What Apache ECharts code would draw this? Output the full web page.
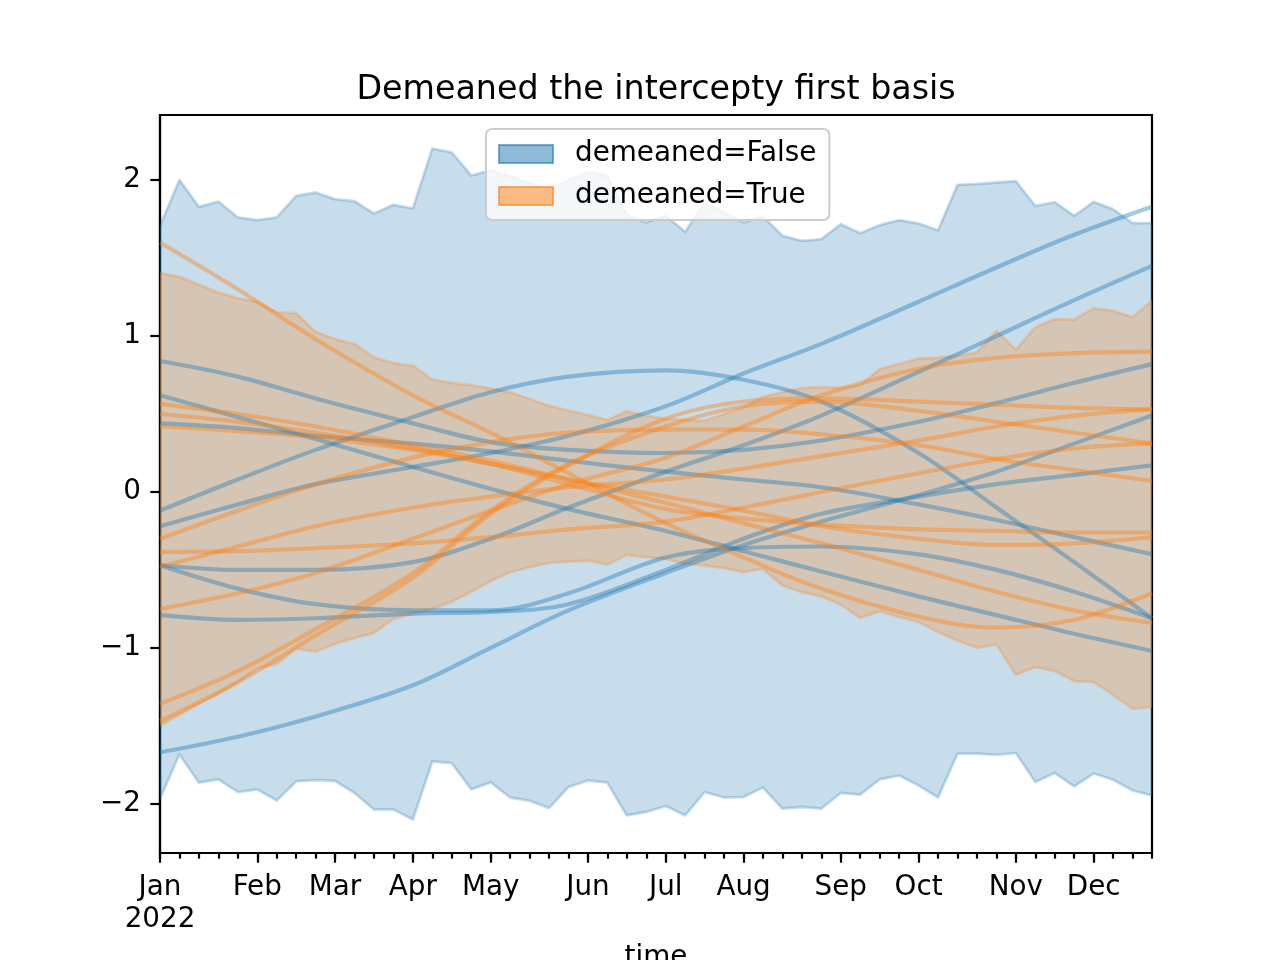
<!DOCTYPE html>
<html>
<head>
<meta charset="utf-8">
<script src="https://cdn.jsdelivr.net/npm/echarts@6/dist/echarts.min.js"></script>
<style>html,body{margin:0;padding:0;background:#fff;}#c{width:1280px;height:960px;}</style>
</head>
<body>
<div id="c"></div>
<script>
// weekly periods starting 2022-01-03 (52 weeks)
const weeks = Array.from({length: 52}, (_, i) => i);
const monthTickWeeks = [0, 5, 9, 13, 17, 22, 26, 30, 35, 39, 44, 48];
const monthTickLabels = ['Jan\n2022', 'Feb', 'Mar', 'Apr', 'May', 'Jun', 'Jul', 'Aug', 'Sep', 'Oct', 'Nov', 'Dec'];
const yTicks = [-2, -1, 0, 1, 2];

const blueUpper = [1.707,2.002,1.829,1.863,1.761,1.744,1.761,1.899,1.921,1.878,1.865,1.786,1.842,1.819,2.203,2.178,2.030,2.064,
  2.026,1.981,1.936,2.000,2.053,2.028,1.776,1.729,1.771,1.669,1.857,1.793,1.729,1.767,1.643,1.611,1.622,
  1.718,1.660,1.712,1.744,1.722,1.679,1.970,1.976,1.985,1.994,1.835,1.859,1.771,1.861,1.814,1.724,1.724];
const blueLower = [-1.968,-1.684,-1.865,-1.844,-1.925,-1.908,-1.979,-1.857,-1.848,-1.854,-1.931,-2.037,-2.037,-2.101,-1.729,-1.739,-1.908,-1.863,
  -1.960,-1.981,-2.028,-1.893,-1.851,-1.865,-2.075,-2.053,-2.015,-2.075,-1.925,-1.960,-1.957,-1.896,-2.032,-2.021,-2.032,
  -1.931,-1.942,-1.844,-1.819,-1.883,-1.960,-1.679,-1.679,-1.686,-1.675,-1.861,-1.803,-1.889,-1.806,-1.846,-1.915,-1.947];
const orangeUpper = [1.404,1.380,1.329,1.280,1.242,1.220,1.152,1.147,1.028,0.981,0.949,0.863,0.827,0.810,0.720,0.699,0.686,0.665,
  0.639,0.596,0.553,0.521,0.494,0.462,0.517,0.489,0.468,0.462,0.457,0.500,0.545,0.609,0.641,0.667,0.673,
  0.667,0.686,0.788,0.821,0.856,0.861,0.874,0.896,1.034,0.912,1.056,1.109,1.105,1.179,1.162,1.120,1.226];
const orangeLower = [-1.498,-1.429,-1.359,-1.295,-1.220,-1.130,-1.103,-1.006,-1.024,-0.974,-0.938,-0.904,-0.814,-0.782,-0.750,-0.705,-0.641,-0.571,
  -0.515,-0.483,-0.455,-0.447,-0.440,-0.466,-0.404,-0.419,-0.429,-0.462,-0.472,-0.489,-0.515,-0.494,-0.601,-0.643,-0.670,
  -0.724,-0.808,-0.765,-0.803,-0.835,-0.899,-0.953,-1.000,-0.979,-1.173,-1.124,-1.149,-1.213,-1.220,-1.301,-1.391,-1.380];

// curve values read at these weeks
const sampleWeeks = [0, 4, 8, 13, 17, 21, 26, 30, 34, 39, 43, 47, 51];
const blueLines = [
  [-0.12, 0.08, 0.27, 0.48, 0.64, 0.74, 0.78, 0.72, 0.58, 0.25, -0.10, -0.45, -0.81],
  [-0.22, -0.08, 0.05, 0.16, 0.25, 0.36, 0.55, 0.76, 0.95, 1.22, 1.44, 1.65, 1.83],
  [-0.47, -0.50, -0.50, -0.45, -0.30, -0.10, 0.13, 0.30, 0.49, 0.77, 1.00, 1.23, 1.45],
  [0.84, 0.74, 0.60, 0.44, 0.32, 0.27, 0.25, 0.27, 0.33, 0.45, 0.57, 0.70, 0.82],
  [0.44, 0.41, 0.36, 0.31, 0.26, 0.20, 0.13, 0.08, 0.03, -0.08, -0.18, -0.29, -0.40],
  [0.62, 0.48, 0.34, 0.16, 0.02, -0.11, -0.25, -0.38, -0.51, -0.67, -0.79, -0.91, -1.02],
  [-1.67, -1.57, -1.44, -1.24, -1.00, -0.76, -0.52, -0.34, -0.19, -0.02, 0.13, 0.31, 0.49],
  [-0.79, -0.82, -0.81, -0.78, -0.77, -0.72, -0.50, -0.30, -0.14, -0.03, 0.05, 0.11, 0.17],
  [-0.47, -0.62, -0.72, -0.76, -0.76, -0.65, -0.42, -0.36, -0.35, -0.40, -0.50, -0.64, -0.81]
];
const orangeLines = [
  [1.60, 1.30, 0.98, 0.62, 0.38, 0.12, -0.20, -0.42, -0.62, -0.80, -0.87, -0.82, -0.65],
  [0.565, 0.50, 0.42, 0.30, 0.20, 0.08, -0.07, -0.20, -0.33, -0.50, -0.64, -0.76, -0.84],
  [0.50, 0.45, 0.38, 0.28, 0.18, 0.08, -0.03, -0.12, -0.22, -0.30, -0.34, -0.33, -0.29],
  [0.42, 0.39, 0.35, 0.27, 0.18, 0.05, -0.11, -0.17, -0.21, -0.24, -0.25, -0.26, -0.26],
  [-0.30, -0.12, 0.05, 0.22, 0.32, 0.38, 0.40, 0.40, 0.37, 0.30, 0.21, 0.14, 0.07],
  [-0.385, -0.38, -0.36, -0.33, -0.29, -0.24, -0.19, -0.10, 0.00, 0.12, 0.21, 0.28, 0.31],
  [-0.48, -0.35, -0.22, -0.10, -0.03, 0.03, 0.08, 0.15, 0.23, 0.33, 0.42, 0.49, 0.53],
  [-0.75, -0.65, -0.52, -0.30, -0.12, 0.05, 0.22, 0.42, 0.62, 0.79, 0.86, 0.89, 0.90],
  [-1.36, -1.15, -0.88, -0.52, -0.12, 0.18, 0.42, 0.55, 0.58, 0.52, 0.45, 0.38, 0.31],
  [-1.47, -1.22, -0.92, -0.55, -0.14, 0.17, 0.47, 0.58, 0.60, 0.58, 0.56, 0.54, 0.53]
];

const BLUE = '31,119,180', ORANGE = '255,127,14';
const toPairs = (xs, ys) => xs.map((x, i) => [x, ys[i]]);
const fmtMinus = v => String(v).replace('-', '\u2212');

function bandSeries(name, upper, lower, rgb, z) {
  return {
    type: 'custom', name, z, silent: true, clip: true,
    itemStyle: { color: `rgba(${rgb},0.5)` },
    data: [0],
    renderItem: (params, api) => {
      const pts = [];
      for (let i = 0; i < weeks.length; i++) pts.push(api.coord([weeks[i], upper[i]]));
      for (let i = weeks.length - 1; i >= 0; i--) pts.push(api.coord([weeks[i], lower[i]]));
      return {
        type: 'polygon',
        shape: { points: pts },
        style: { fill: `rgba(${rgb},0.25)`, stroke: `rgba(${rgb},0.25)`, lineWidth: 2.8, lineJoin: 'round' }
      };
    }
  };
}

const series = [];
series.push(bandSeries('demeaned=False', blueUpper, blueLower, BLUE, 2));
series.push(bandSeries('demeaned=True', orangeUpper, orangeLower, ORANGE, 3));
blueLines.forEach((ys, k) => series.push({ type: 'line', name: 'bl' + k, data: toPairs(sampleWeeks, ys), smooth: 0.35,
  symbol: 'none', silent: true, lineStyle: { color: `rgba(${BLUE},0.4)`, width: 4.2 }, z: 4 }));
orangeLines.forEach((ys, k) => series.push({ type: 'line', name: 'ol' + k, data: toPairs(sampleWeeks, ys), smooth: 0.35,
  symbol: 'none', silent: true, lineStyle: { color: `rgba(${ORANGE},0.4)`, width: 4.2 }, z: 4 }));

const chart = echarts.init(document.getElementById('c'), null, { renderer: 'canvas' });
const FONT = 'DejaVu Sans';
chart.setOption({
  animation: false,
  backgroundColor: '#fff',
  title: { text: 'Demeaned the intercepty first basis', left: 651, top: 69, textAlign: 'center',
    textStyle: { fontFamily: FONT, fontSize: 33.3, fontWeight: 'normal', color: '#000' } },
  legend: {
    data: [
      { name: 'demeaned=False', itemStyle: { color: `rgba(${BLUE},0.5)`, borderColor: `rgba(${BLUE},0.6)`, borderWidth: 2 } },
      { name: 'demeaned=True', itemStyle: { color: `rgba(${ORANGE},0.5)`, borderColor: `rgba(${ORANGE},0.6)`, borderWidth: 2 } }
    ],
    orient: 'vertical', left: 486, top: 129, itemWidth: 54, itemHeight: 18, itemGap: 14,
    padding: [11, 13, 10, 12], backgroundColor: 'rgba(255,255,255,0.8)', borderColor: '#cccccc', borderWidth: 2, borderRadius: 6,
    icon: 'rect', textStyle: { fontFamily: FONT, fontSize: 27.8, color: '#000', padding: [0, 0, 0, 17] }, selectedMode: false
  },
  grid: { left: 160, right: 128, top: 115, bottom: 107, containLabel: false, outerBoundsMode: 'none',
    show: true, borderColor: '#000', borderWidth: 2.2, backgroundColor: 'transparent' },
  xAxis: [{
    type: 'value', min: 0, max: 51, interval: 1,
    axisLine: { show: true, onZero: false, lineStyle: { color: '#000', width: 2.2 } },
    axisTick: { show: true, length: 5.6, lineStyle: { color: '#000', width: 2.2 } },
    axisLabel: { show: false }, splitLine: { show: false }
  }, {
    type: 'value', min: 0, max: 51, position: 'bottom', gridIndex: 0,
    axisLine: { show: false, onZero: false },
    axisTick: { show: true, length: 9.7, customValues: monthTickWeeks, lineStyle: { color: '#000', width: 2.2 } },
    axisLabel: { show: true, customValues: monthTickWeeks, margin: 19, lineHeight: 32,
      fontFamily: FONT, fontSize: 27.8, color: '#000',
      formatter: v => monthTickLabels[monthTickWeeks.indexOf(v)] || '' },
    splitLine: { show: false },
    name: 'time', nameLocation: 'middle', nameGap: 91, nameTextStyle: { fontFamily: FONT, fontSize: 27.8, color: '#000' }
  }],
  yAxis: {
    type: 'value', min: -2.316, max: 2.418,
    axisLine: { show: true, onZero: false, lineStyle: { color: '#000', width: 2.2 } },
    axisTick: { show: true, length: 9.7, customValues: yTicks, lineStyle: { color: '#000', width: 2.2 } },
    axisLabel: { customValues: yTicks, margin: 19, fontFamily: FONT, fontSize: 27.8, color: '#000', formatter: v => fmtMinus(v) },
    splitLine: { show: false }
  },
  series
});
</script>
</body>
</html>
